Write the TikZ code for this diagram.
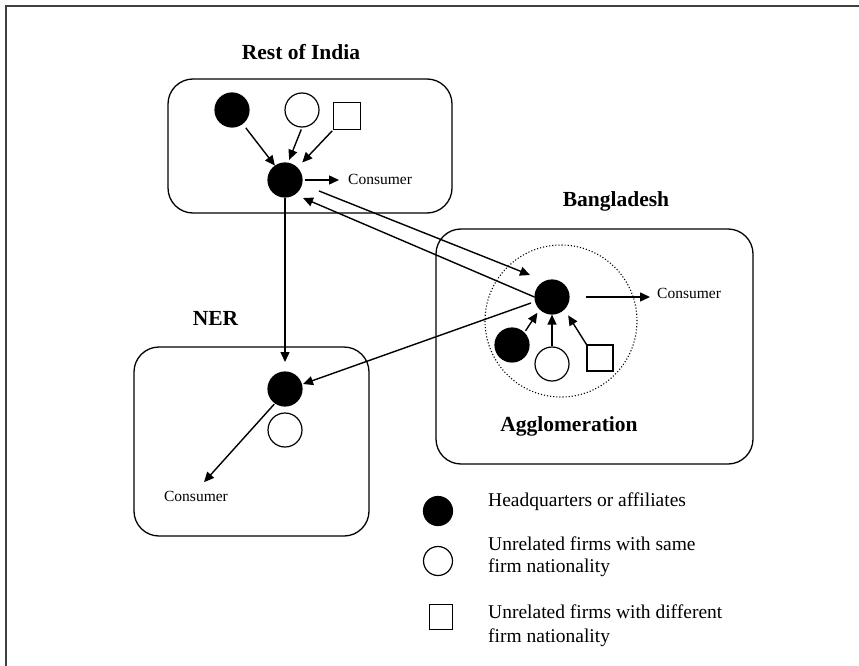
\documentclass[tikz,border=0pt]{standalone}
\usepackage{fontspec}
\setmainfont{Liberation Serif}
\usetikzlibrary{arrows.meta,calc}
\begin{document}
\begin{tikzpicture}[x=1pt,y=-1pt,
  region/.style={draw, line width=1.3pt, rounded corners=25pt, inner sep=0pt},
  hq/.style={circle, fill=black, draw, line width=1.2pt, minimum size=34pt, inner sep=0pt},
  uo/.style={circle, fill=white, draw, line width=1.2pt, minimum size=34pt, inner sep=0pt},
  df/.style={rectangle, fill=white, draw, line width=1.2pt, minimum size=26pt, inner sep=0pt},
  arr/.style={-{Triangle[length=10pt,width=9pt]}, line width=1.4pt},
  title/.style={font=\fontsize{21.5}{24}\selectfont\bfseries, inner sep=0pt, anchor=base},
  cons/.style={font=\fontsize{15.5}{18}\selectfont, inner sep=0pt},
  legtext/.style={font=\fontsize{19.5}{22}\selectfont, inner sep=0pt, anchor=base west},
]
\useasboundingbox (0,0) rectangle (859,666);
% page frame
\draw[line width=1.2pt, black!75] (6,666) -- (6,6) -- (859,6);

% regions
\node[region, minimum width=284pt, minimum height=134pt] (roi) at (310,146) {};
\node[region, minimum width=317pt, minimum height=235pt] (bgd) at (594.5,346.5) {};
\node[region, minimum width=235pt, minimum height=189pt] (ner) at (251.5,441.5) {};
\node[circle, draw, dotted, line width=1.1pt, minimum size=152pt, inner sep=0pt] (agg) at (561,321) {};

% titles
\node[title] (troi) at (301,60) {Rest of India};
\node[title] (tbgd) at (616,206.5) {Bangladesh};
\node[title] (tner) at (215.5,325) {NER};
\node[title] (tagg) at (569,431.5) {Agglomeration};

% Rest of India firms
\node[hq] (hqa) at (232,110) {};
\node[uo] (uoa) at (302,110) {};
\node[df, minimum size=27pt] (dfa) at (347,116) {};
\node[hq] (hqr) at (285,180) {};
\node[cons, anchor=west] (consr) at (348,179) {Consumer};

% Bangladesh firms
\node[hq] (hqb) at (552,297) {};
\node[hq] (hqs) at (512,345) {};
\node[uo] (uob) at (552,364) {};
\node[df] (dfb) at (600,358) {};
\node[cons, anchor=west] (consb) at (657,293) {Consumer};

% NER firms
\node[hq] (hqn) at (285,389) {};
\node[uo] (uon) at (285,430) {};
\node[cons] (consn) at (196,496.5) {Consumer};

% flows inside Rest of India
\draw[arr, shorten <=5pt] (hqa) -- (hqr.125);
\draw[arr, shorten <=2pt, shorten >=3pt] (uoa.south) -- (hqr.80);
\draw[arr, shorten <=1pt, shorten >=7pt] (dfa.south west) -- (hqr.45);
\draw[arr, shorten <=2pt, shorten >=9pt] (hqr.east) -- (hqr.east -| consr.west);

% flows between regions
\draw[arr] ([shift={(34,11)}]hqr.center) -- ([shift={(-22,-22)}]hqb.center);
\draw[arr] (hqb.west) -- ([shift={(18,18)}]hqr.center);
\draw[arr] ([shift={(-21,6)}]hqb.center) -- ([shift={(18,-5)}]hqn.center);
\draw[arr] (hqr.south) -- ([shift={(0,-27)}]hqn.center);

% flows inside Bangladesh
\draw[arr, shorten <=2pt, shorten >=4pt] (hqs.north east) -- (hqb.225);
\draw[arr] (uob.north) -- (hqb.south);
\draw[arr, shorten >=7pt] (dfb.north west) -- (hqb.-45);
\draw[arr, shorten <=16pt, shorten >=7pt] (hqb.east) -- (hqb.east -| consb.west);

% flow inside NER
\draw[arr, shorten <=1pt, shorten >=12pt] (hqn.235) -- (consn.north);

% legend
\node[hq, minimum size=29pt] (lhq) at (438,511) {};
\node[uo, minimum size=29pt] (luo) at (438,561) {};
\node[df, minimum width=23pt, minimum height=25pt] (ldf) at (441,617) {};
\node[legtext] (thq) at (488,506) {Headquarters or affiliates};
\node[legtext] (tuo1) at (488,550) {Unrelated firms with same};
\node[legtext] (tuo2) at (488,572) {firm nationality};
\node[legtext] (tdf1) at (488,618) {Unrelated firms with different};
\node[legtext] (tdf2) at (488,642) {firm nationality};
\end{tikzpicture}
\end{document}
